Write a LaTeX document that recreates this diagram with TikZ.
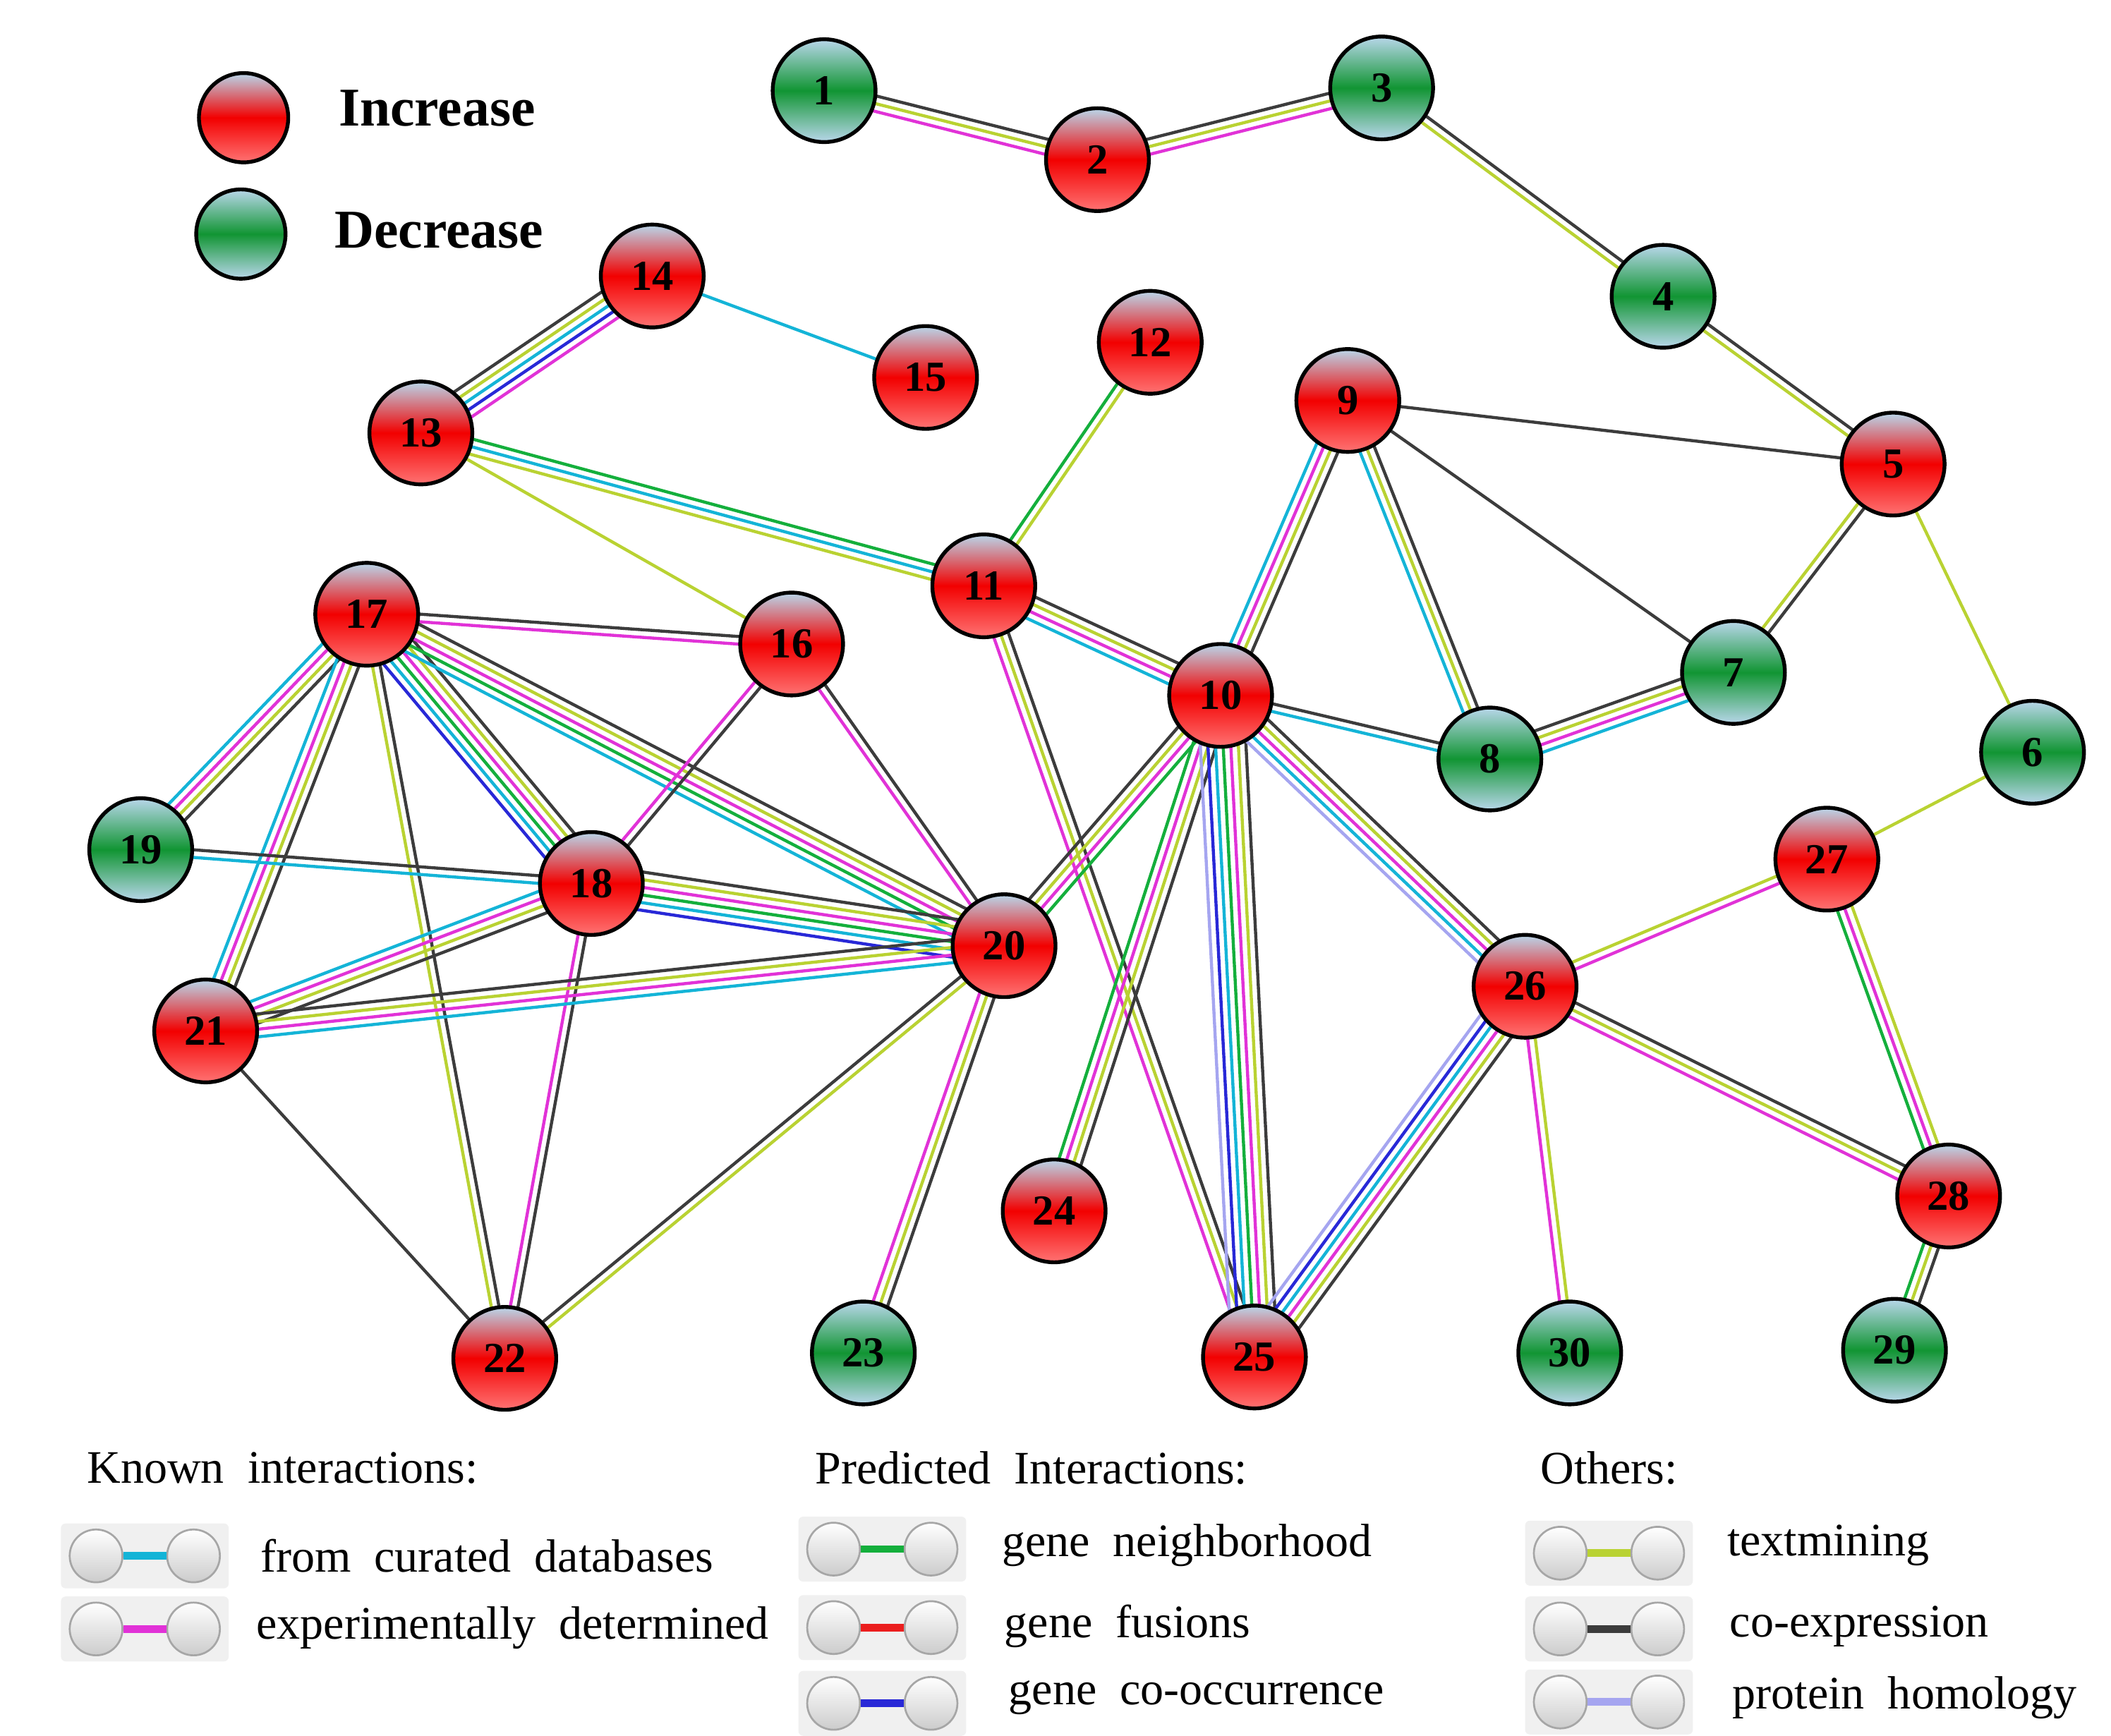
\documentclass[tikz,border=0pt]{standalone}
\usepackage{fontspec}
\setmainfont{Liberation Serif}
\usetikzlibrary{calc}
\usetikzlibrary{backgrounds}

\definecolor{cdb}{RGB}{20,180,215}
\definecolor{cexp}{RGB}{225,50,215}
\definecolor{ctxt}{RGB}{185,210,50}
\definecolor{ccoex}{RGB}{60,60,60}
\definecolor{cnei}{RGB}{20,175,60}
\definecolor{cfus}{RGB}{235,30,30}
\definecolor{cocc}{RGB}{40,40,215}
\definecolor{chom}{RGB}{165,165,240}
\definecolor{topblue}{RGB}{185,215,235}

\tikzset{
  prot/.style={circle, draw=black, line width=0.8pt, minimum size=7.6mm, inner sep=0pt,
    font=\bfseries\fontsize{9}{9}\selectfont},
  up/.style={prot, top color=topblue, bottom color=red!55!white, middle color=red!95!black},
  down/.style={prot, top color=topblue, bottom color=topblue, middle color=cnei!85!black},
  legtext/.style={font=\fontsize{9.8}{10}\selectfont, anchor=west},
  ball/.style={circle, draw=gray!70, minimum size=3.9mm, inner sep=0pt, top color=white, bottom color=gray!40},
}

% one multi-coloured connector: node, node, list of colours
\newcommand\link[3]{%
  \foreach \c [count=\k] in {#3}{\xdef\nlinks{\k}}
  \foreach \c [count=\k] in {#3}{
    \pgfmathsetmacro\off{(\k-(\nlinks+1)/2)*1.6}
    \draw[\c, line width=0.65pt] ($(#1)!\off pt!90:(#2)$) -- ($(#2)!\off pt!-90:(#1)$);
  }}

% legend icon: name, position, colour
\newcommand\legicon[3]{%
  \fill[gray!12, rounded corners=1pt] ($(#2)+(-6.2mm,-2.4mm)$) rectangle ($(#2)+(6.2mm,2.4mm)$);
  \node[ball] (#1l) at ($(#2)+(-3.6mm,0)$) {};
  \node[ball] (#1r) at ($(#2)+(3.6mm,0)$) {};
  \draw[#3, line width=1.6pt] (#1l.east) -- (#1r.west);
}

\begin{document}
\begin{tikzpicture}[x=0.1mm, y=-0.1mm]
  \useasboundingbox (0,0) rectangle (1560,1283);

  % proteins
  \node[down] (n1) at (609,67) {1};
  \node[up] (n2) at (811,118) {2};
  \node[down] (n3) at (1021,65) {3};
  \node[down] (n4) at (1229,219) {4};
  \node[up] (n5) at (1399,343) {5};
  \node[down] (n6) at (1502,556) {6};
  \node[down] (n7) at (1281,497) {7};
  \node[down] (n8) at (1101,561) {8};
  \node[up] (n9) at (996,296) {9};
  \node[up] (n10) at (902,514) {10};
  \node[up] (n11) at (727,433) {11};
  \node[up] (n12) at (850,253) {12};
  \node[up] (n13) at (311,320) {13};
  \node[up] (n14) at (482,204) {14};
  \node[up] (n15) at (684,279) {15};
  \node[up] (n16) at (585,476) {16};
  \node[up] (n17) at (271,454) {17};
  \node[up] (n18) at (437,653) {18};
  \node[down] (n19) at (104,628) {19};
  \node[up] (n20) at (742,699) {20};
  \node[up] (n21) at (152,762) {21};
  \node[up] (n22) at (373,1004) {22};
  \node[down] (n23) at (638,1000) {23};
  \node[up] (n24) at (779,895) {24};
  \node[up] (n25) at (927,1003) {25};
  \node[up] (n26) at (1127,729) {26};
  \node[up] (n27) at (1350,635) {27};
  \node[up] (n28) at (1440,884) {28};
  \node[down] (n29) at (1400,998) {29};
  \node[down] (n30) at (1160,1000) {30};

  \begin{pgfonlayer}{background}
    \link{n1}{n2}{cexp,ctxt,ccoex}
    \link{n2}{n3}{cexp,ctxt,ccoex}
    \link{n3}{n4}{ctxt,ccoex}
    \link{n4}{n5}{ctxt,ccoex}
    \link{n5}{n9}{ccoex}
    \link{n5}{n7}{ctxt,ccoex}
    \link{n5}{n6}{ctxt}
    \link{n9}{n7}{ccoex}
    \link{n9}{n8}{cdb,ctxt,ccoex}
    \link{n9}{n10}{cdb,cexp,ctxt,ccoex}
    \link{n8}{n7}{cdb,cexp,ctxt,ccoex}
    \link{n10}{n8}{cdb,ccoex}
    \link{n12}{n11}{cnei,ctxt}
    \link{n14}{n15}{cdb}
    \link{n14}{n13}{ccoex,ctxt,cdb,cocc,cexp}
    \link{n13}{n11}{ctxt,cdb,cnei}
    \link{n13}{n16}{ctxt}
    \link{n11}{n10}{cdb,cexp,ctxt,ccoex}
    \link{n11}{n25}{cexp,ctxt,ccoex}
    \link{n17}{n16}{cexp,ccoex}
    \link{n17}{n19}{cdb,cexp,ctxt,ccoex}
    \link{n17}{n21}{cdb,cexp,ctxt,ccoex}
    \link{n17}{n22}{ctxt,ccoex}
    \link{n17}{n18}{cocc,cdb,cnei,cexp,ctxt,ccoex}
    \link{n17}{n20}{cdb,cnei,cexp,ctxt,ccoex}
    \link{n16}{n18}{cexp,ccoex}
    \link{n16}{n20}{cexp,ccoex}
    \link{n19}{n18}{cdb,ccoex}
    \link{n18}{n20}{cocc,cdb,cnei,cexp,ctxt,ccoex}
    \link{n18}{n21}{cdb,cexp,ctxt,ccoex}
    \link{n18}{n22}{cexp,ccoex}
    \link{n21}{n20}{cdb,cexp,ctxt,ccoex}
    \link{n21}{n22}{ccoex}
    \link{n22}{n20}{ctxt,ccoex}
    \link{n20}{n10}{cnei,cexp,ctxt,ccoex}
    \link{n20}{n23}{cexp,ctxt,ccoex}
    \link{n10}{n24}{cnei,cexp,ctxt,ccoex}
    \link{n10}{n25}{chom,cocc,cdb,cnei,cexp,ctxt,ccoex}
    \link{n10}{n26}{chom,cdb,cexp,ctxt,ccoex}
    \link{n26}{n25}{chom,cocc,cdb,cexp,ctxt,ccoex}
    \link{n26}{n27}{cexp,ctxt}
    \link{n27}{n6}{ctxt}
    \link{n26}{n28}{cexp,ctxt,ccoex}
    \link{n26}{n30}{cexp,ctxt}
    \link{n27}{n28}{cnei,cexp,ctxt}
    \link{n28}{n29}{cnei,ctxt,ccoex}
  \end{pgfonlayer}

  % top legend
  \node[up, minimum size=6.6mm] (incr) at (180,87) {};
  \node[down, minimum size=6.6mm] (decr) at (178,173) {};
  \node[legtext, font=\bfseries\fontsize{11.5}{12}\selectfont] at (238,80) {Increase};
  \node[legtext, font=\bfseries\fontsize{11.5}{12}\selectfont] at (235,170) {Decrease};

  % bottom legend
  \node[legtext] (known) at (52,1085) {Known~ interactions:};
  \node[legtext] (pred) at (590,1085) {Predicted~ Interactions:};
  \node[legtext] (oth) at (1126,1085) {Others:};

  \legicon{db}{107,1150}{cdb}
  \node[legtext] at (180,1150) {from~ curated~ databases};
  \legicon{exp}{107,1204}{cexp}
  \node[legtext] at (177,1203) {experimentally~ determined};

  \legicon{nei}{652,1145}{cnei}
  \node[legtext] at (728,1142) {gene~ neighborhood};
  \legicon{fus}{652,1203}{cfus}
  \node[legtext] at (730,1202) {gene~ fusions};
  \legicon{occ}{652,1259}{cocc}
  \node[legtext] at (733,1255) {gene~ co-occurrence};

  \legicon{txt}{1189,1148}{ctxt}
  \node[legtext] at (1264,1142) {textmining};
  \legicon{coex}{1189,1204}{ccoex}
  \node[legtext] at (1266,1202) {co-expression};
  \legicon{hom}{1189,1258}{chom}
  \node[legtext] at (1268,1255) {protein~ homology};
\end{tikzpicture}
\end{document}
